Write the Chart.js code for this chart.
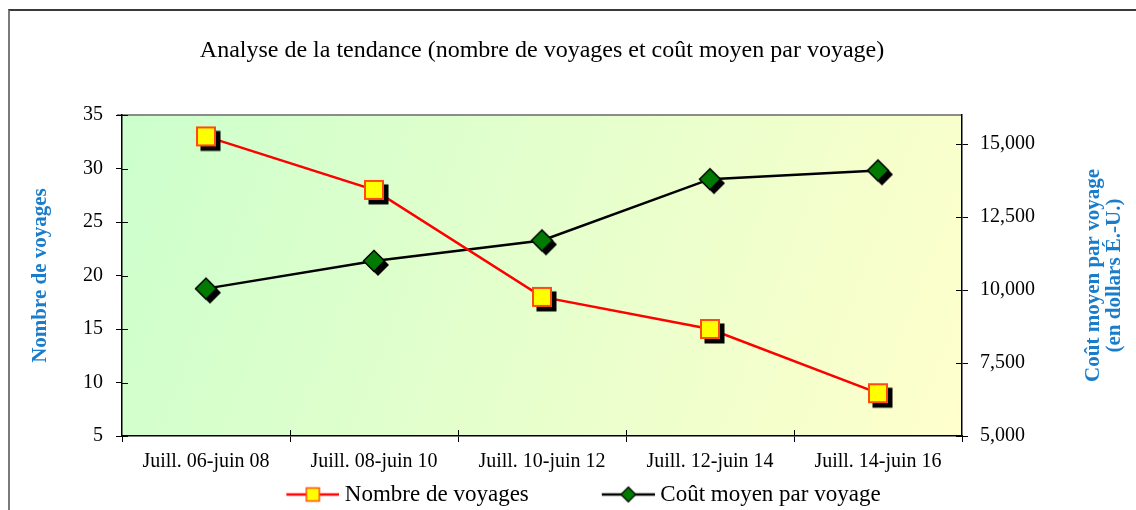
<!DOCTYPE html>
<html>
<head>
<meta charset="utf-8">
<script src="https://cdn.jsdelivr.net/npm/chart.js@4"></script>
<style>
body { margin: 0; background: #fff; }
#cadre { position: absolute; left: 8px; top: 9px; width: 1200px; height: 600px; border-top: 2px solid #3a3a3a; border-left: 2px solid #7a7a7a; }
#graphTendance { position: absolute; left: 0; top: 0; }
</style>
</head>
<body>
<div id="cadre"></div>
<canvas id="graphTendance" width="1136" height="510"></canvas>
<script>
// données
var periodes = ['Juill. 06-juin 08', 'Juill. 08-juin 10', 'Juill. 10-juin 12', 'Juill. 12-juin 14', 'Juill. 14-juin 16'];
var nombreVoyages = [33, 28, 18, 15, 9];
var coutMoyen = [10050, 11000, 11700, 13800, 14100];
var ticksVoyages = [5, 10, 15, 20, 25, 30, 35];
var ticksCout = [5000, 7500, 10000, 12500, 15000];

var bleu = '#1a7dcc';
var serif = '"Liberation Serif", "Times New Roman", serif';

function police(taille, gras) {
    return { family: serif, size: taille, weight: gras ? 'bold' : 'normal', lineHeight: 1.2 };
}

// marqueur carré jaune avec ombre noire
function marqueurCarre() {
    var c = document.createElement('canvas');
    c.width = 38; c.height = 38;
    var ctx = c.getContext('2d');
    ctx.fillStyle = '#000';
    ctx.fillRect(13.5, 13.5, 20, 20);
    ctx.fillStyle = '#ffff00';
    ctx.fillRect(10, 10, 18, 18);
    ctx.strokeStyle = '#ff4a10';
    ctx.lineWidth = 2;
    ctx.strokeRect(10, 10, 18, 18);
    return c;
}

// marqueur losange vert avec ombre noire
function marqueurLosange() {
    var c = document.createElement('canvas');
    c.width = 38; c.height = 38;
    var ctx = c.getContext('2d');
    function losange(cx, cy, r) {
        ctx.beginPath();
        ctx.moveTo(cx, cy - r); ctx.lineTo(cx + r, cy); ctx.lineTo(cx, cy + r); ctx.lineTo(cx - r, cy);
        ctx.closePath();
    }
    losange(23, 23, 11);
    ctx.fillStyle = '#000';
    ctx.fill();
    losange(19, 19, 10.5);
    ctx.fillStyle = '#007a00';
    ctx.fill();
    ctx.strokeStyle = '#000';
    ctx.lineWidth = 1.5;
    ctx.stroke();
    return c;
}

// images de la légende (marge vide + ligne + marqueur)
function legendeImage(couleurLigne, forme) {
    var c = document.createElement('canvas');
    c.width = 124; c.height = 20;
    var ctx = c.getContext('2d');
    var debut = 124 - 53, milieu = 124 - 26.5;
    ctx.strokeStyle = couleurLigne;
    ctx.lineWidth = 2.5;
    ctx.beginPath(); ctx.moveTo(debut, 10); ctx.lineTo(124, 10); ctx.stroke();
    if (forme === 'carre') {
        ctx.fillStyle = '#ffff00';
        ctx.fillRect(milieu - 6.5, 3.5, 13, 13);
        ctx.strokeStyle = '#ff4a10';
        ctx.lineWidth = 1.5;
        ctx.strokeRect(milieu - 6.5, 3.5, 13, 13);
    } else {
        ctx.beginPath();
        ctx.moveTo(milieu, 2.5); ctx.lineTo(milieu + 7.5, 10); ctx.lineTo(milieu, 17.5); ctx.lineTo(milieu - 7.5, 10);
        ctx.closePath();
        ctx.fillStyle = '#007a00';
        ctx.fill();
        ctx.strokeStyle = '#000';
        ctx.lineWidth = 1.2;
        ctx.stroke();
    }
    return c;
}

var imagesLegende = [legendeImage('#ff0000', 'carre'), legendeImage('#000000', 'losange')];

// fond dégradé de la zone de tracé
var fondDegrade = {
    id: 'fondDegrade',
    beforeDraw: function(chart) {
        var a = chart.chartArea, ctx = chart.ctx;
        var g = ctx.createLinearGradient(a.left, a.top, a.right, a.bottom);
        g.addColorStop(0, '#ccffcc');
        g.addColorStop(1, '#ffffcc');
        ctx.save();
        ctx.fillStyle = g;
        ctx.fillRect(a.left, a.top, a.right - a.left, a.bottom - a.top);
        ctx.strokeStyle = '#8c8c8c';
        ctx.lineWidth = 2;
        ctx.beginPath(); ctx.moveTo(a.left - 5, a.top); ctx.lineTo(a.right, a.top); ctx.stroke();
        ctx.restore();
    }
};

// petits tirets vers l'intérieur + titre de l'axe de droite
var finitions = {
    id: 'finitions',
    afterDraw: function(chart) {
        var a = chart.chartArea, ctx = chart.ctx;
        var sx = chart.scales.x, sg = chart.scales.yVoyages, sd = chart.scales.yCout;
        ctx.save();
        ctx.strokeStyle = '#000';
        ctx.lineWidth = 1;
        ctx.beginPath();
        for (var i = 0; i < periodes.length - 1; i++) {
            var px = Math.round((sx.getPixelForTick(i) + sx.getPixelForTick(i + 1)) / 2) + 0.5;
            ctx.moveTo(px, a.bottom); ctx.lineTo(px, a.bottom - 6);
        }
        ticksVoyages.forEach(function(v) {
            var py = Math.round(sg.getPixelForValue(v)) + 0.5;
            ctx.moveTo(a.left, py); ctx.lineTo(a.left + 6, py);
        });
        ticksCout.forEach(function(v) {
            var py = Math.round(sd.getPixelForValue(v)) + 0.5;
            ctx.moveTo(a.right, py); ctx.lineTo(a.right - 6, py);
        });
        ctx.stroke();

        var yMilieu = (a.top + a.bottom) / 2;
        ctx.fillStyle = bleu;
        ctx.font = 'bold 21px ' + serif;
        ctx.textAlign = 'center';
        ctx.textBaseline = 'middle';
        [['Coût moyen par voyage', a.right + 132], ['(en dollars É.-U.)', a.right + 153]].forEach(function(l) {
            ctx.save();
            ctx.translate(l[1], yMilieu);
            ctx.rotate(-Math.PI / 2);
            ctx.fillText(l[0], 0, 0);
            ctx.restore();
        });
        ctx.restore();
    }
};

var config = {
    type: 'line',
    data: {
        labels: periodes,
        datasets: [{
            label: 'Nombre de voyages',
            data: nombreVoyages,
            yAxisID: 'yVoyages',
            borderColor: '#ff0000',
            borderWidth: 2.5,
            pointStyle: marqueurCarre(),
            pointRadius: 10,
            pointHoverRadius: 10,
            tension: 0
        }, {
            label: 'Coût moyen par voyage',
            data: coutMoyen,
            yAxisID: 'yCout',
            borderColor: '#000000',
            borderWidth: 2.5,
            pointStyle: marqueurLosange(),
            pointRadius: 10,
            pointHoverRadius: 10,
            tension: 0
        }]
    },
    options: {
        responsive: false,
        animation: false,
        layout: { padding: { left: 0, right: 34, top: 0, bottom: -6 } },
        plugins: {
            tooltip: { enabled: false },
            title: {
                display: true,
                text: 'Analyse de la tendance (nombre de voyages et coût moyen par voyage)',
                color: '#000',
                font: police(24),
                fullSize: false,
                padding: { top: 36.6, bottom: 49.6 }
            },
            legend: {
                position: 'bottom',
                labels: {
                    usePointStyle: true,
                    pointStyleWidth: 112,
                    padding: 8,
                    color: '#000',
                    font: police(23),
                    generateLabels: function(chart) {
                        return chart.data.datasets.map(function(ds, i) {
                            return {
                                text: ds.label,
                                pointStyle: imagesLegende[i],
                                fillStyle: 'transparent',
                                strokeStyle: 'transparent',
                                lineWidth: 0,
                                hidden: false,
                                datasetIndex: i,
                                fontColor: '#000'
                            };
                        });
                    }
                }
            }
        },
        scales: {
            x: {
                offset: true,
                grid: { offset: true, drawOnChartArea: false, tickLength: 6, color: '#000' },
                border: { color: '#000', width: 1.5 },
                ticks: { color: '#000', font: police(20), padding: 8, maxRotation: 0, autoSkip: false },
                afterFit: function(s) { s.height = 39; }
            },
            yVoyages: {
                position: 'left',
                min: 5,
                max: 35,
                afterBuildTicks: function(s) { s.ticks = ticksVoyages.map(function(v) { return { value: v }; }); },
                grid: { drawOnChartArea: false, tickLength: 6, color: '#000' },
                border: { color: '#000', width: 1.5 },
                ticks: { color: '#000', font: police(20), padding: 13 },
                title: {
                    display: true,
                    text: 'Nombre de voyages',
                    color: bleu,
                    font: police(21, true),
                    padding: { top: 28.4, bottom: 4 }
                },
                afterFit: function(s) { s.width = 122; }
            },
            yCout: {
                position: 'right',
                min: 5000,
                max: 16000,
                afterBuildTicks: function(s) { s.ticks = ticksCout.map(function(v) { return { value: v }; }); },
                grid: { drawOnChartArea: false, tickLength: 6, color: '#000' },
                border: { color: '#000', width: 1.5 },
                ticks: {
                    color: '#000',
                    font: police(20),
                    padding: 12,
                    callback: function(v) { return v.toLocaleString('en-US'); }
                },
                afterFit: function(s) { s.width = 140; }
            }
        }
    },
    plugins: [fondDegrade, finitions]
};

var ctx = document.getElementById('graphTendance').getContext('2d');
window.graphiqueTendance = new Chart(ctx, config);
</script>
</body>
</html>
